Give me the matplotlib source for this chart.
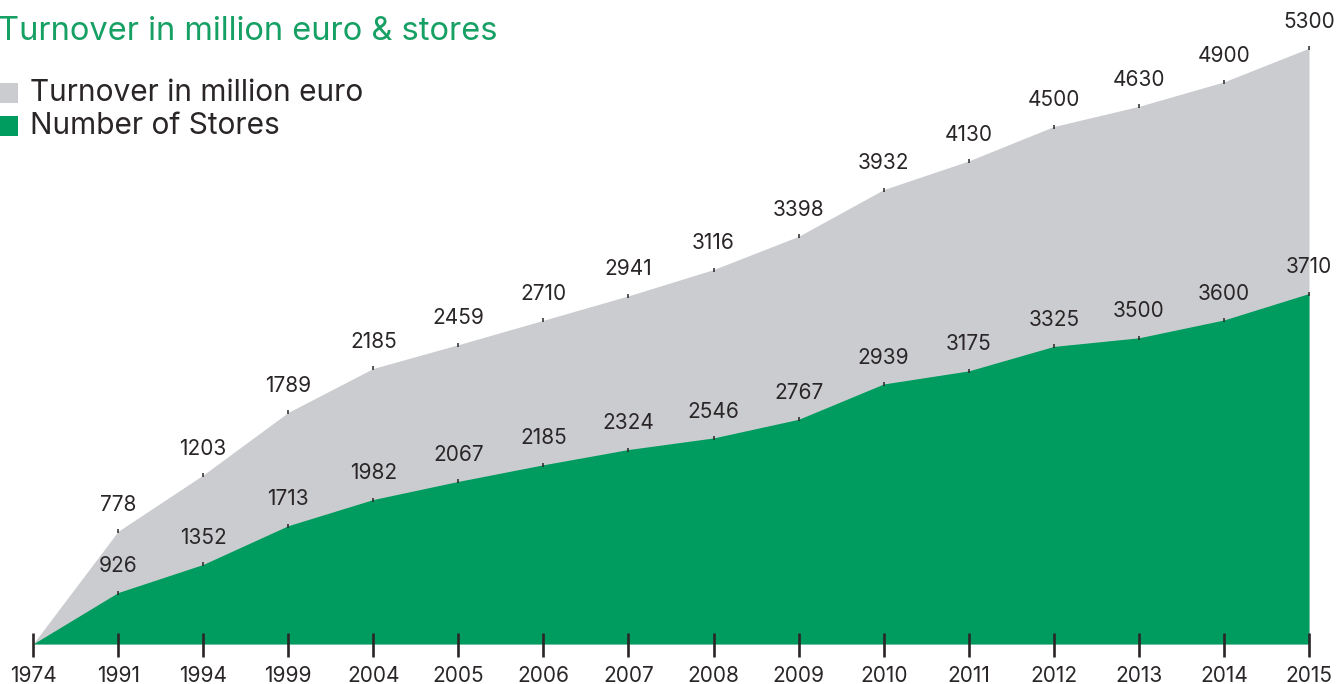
import matplotlib
matplotlib.use("Agg")
import matplotlib.pyplot as plt
from matplotlib.patches import Rectangle
import numpy as np

years = ["1974", "1991", "1994", "1999", "2004", "2005", "2006", "2007",
         "2008", "2009", "2010", "2011", "2012", "2013", "2014", "2015"]
turnover = [0, 778, 1203, 1789, 2185, 2459, 2710, 2941, 3116, 3398,
            3932, 4130, 4500, 4630, 4900, 5300]
stores = [0, 926, 1352, 1713, 1982, 2067, 2185, 2324, 2546, 2767,
          2939, 3175, 3325, 3500, 3600, 3710]

GREEN = "#009b5f"
GREY = "#cbcccf"
TITLE_GREEN = "#16a064"
TXT = "#2a2627"
FONT = ["Inter", "DejaVu Sans"]
WT = "normal"

W, H = 1336, 684
fig = plt.figure(figsize=(W / 100, H / 100), dpi=100)
ax = fig.add_axes([0, 0, 1, 1])
ax.axis("off")

x = np.arange(len(years))
pxx = (1309 - 33) / (len(years) - 1)
ax.set_xlim(-33 / pxx, (W - 33) / pxx)
upp = 1 / 0.06613  # units per pixel
ax.set_ylim(-40 * upp, (H - 40) * upp)

t = np.array(turnover, dtype=float)
s = np.array(stores, dtype=float)
top = t + s
ax.fill_between(x, 0, top, color=GREY, lw=0, zorder=1)
ax.fill_between(x, 0, t, color=GREEN, lw=0, zorder=2)

ax.plot(x[1:], top[1:], ls="none", marker="|", ms=3, mew=1.1, color=TXT, zorder=3)
ax.plot(x[1:], t[1:], ls="none", marker="|", ms=3, mew=1.1, color=TXT, zorder=3)

ax.plot(x, np.full(len(x), -1 * upp), ls="none", marker="|", ms=17.3, mew=1.9,
        color=TXT, zorder=4, clip_on=False)

for i in range(1, len(years)):
    ax.annotate(str(turnover[i]), (x[i], top[i]), xytext=(0, 19),
                textcoords="offset points", ha="center", va="center",
                fontsize=15, color=TXT, family=FONT, weight=WT, zorder=5)
    ax.annotate(str(stores[i]), (x[i], t[i]), xytext=(0, 19),
                textcoords="offset points", ha="center", va="center",
                fontsize=15, color=TXT, family=FONT, weight=WT, zorder=5)

for i, yr in enumerate(years):
    ax.annotate(yr, (x[i], 0), xytext=(0, -23),
                textcoords="offset points", ha="center", va="center",
                fontsize=15, color=TXT, family=FONT, weight=WT,
                annotation_clip=False)

fig.text(-2 / W, 1 - 31 / H, "Turnover in million euro & stores", ha="left", va="center",
         fontsize=23.5, color=TITLE_GREEN, family=FONT, weight=WT)

for k, (lab, col) in enumerate([("Turnover in million euro", GREY),
                                ("Number of Stores", GREEN)]):
    yc = 93 + k * 33
    fig.patches.append(Rectangle((0, 1 - (yc + 10) / H), 18 / W, 20 / H,
                                 transform=fig.transFigure, color=col, lw=0))
    fig.text(30 / W, 1 - yc / H, lab, ha="left", va="center",
             fontsize=21.5, color=TXT, family=FONT, weight=WT)

fig.savefig("out.png", dpi=100)
